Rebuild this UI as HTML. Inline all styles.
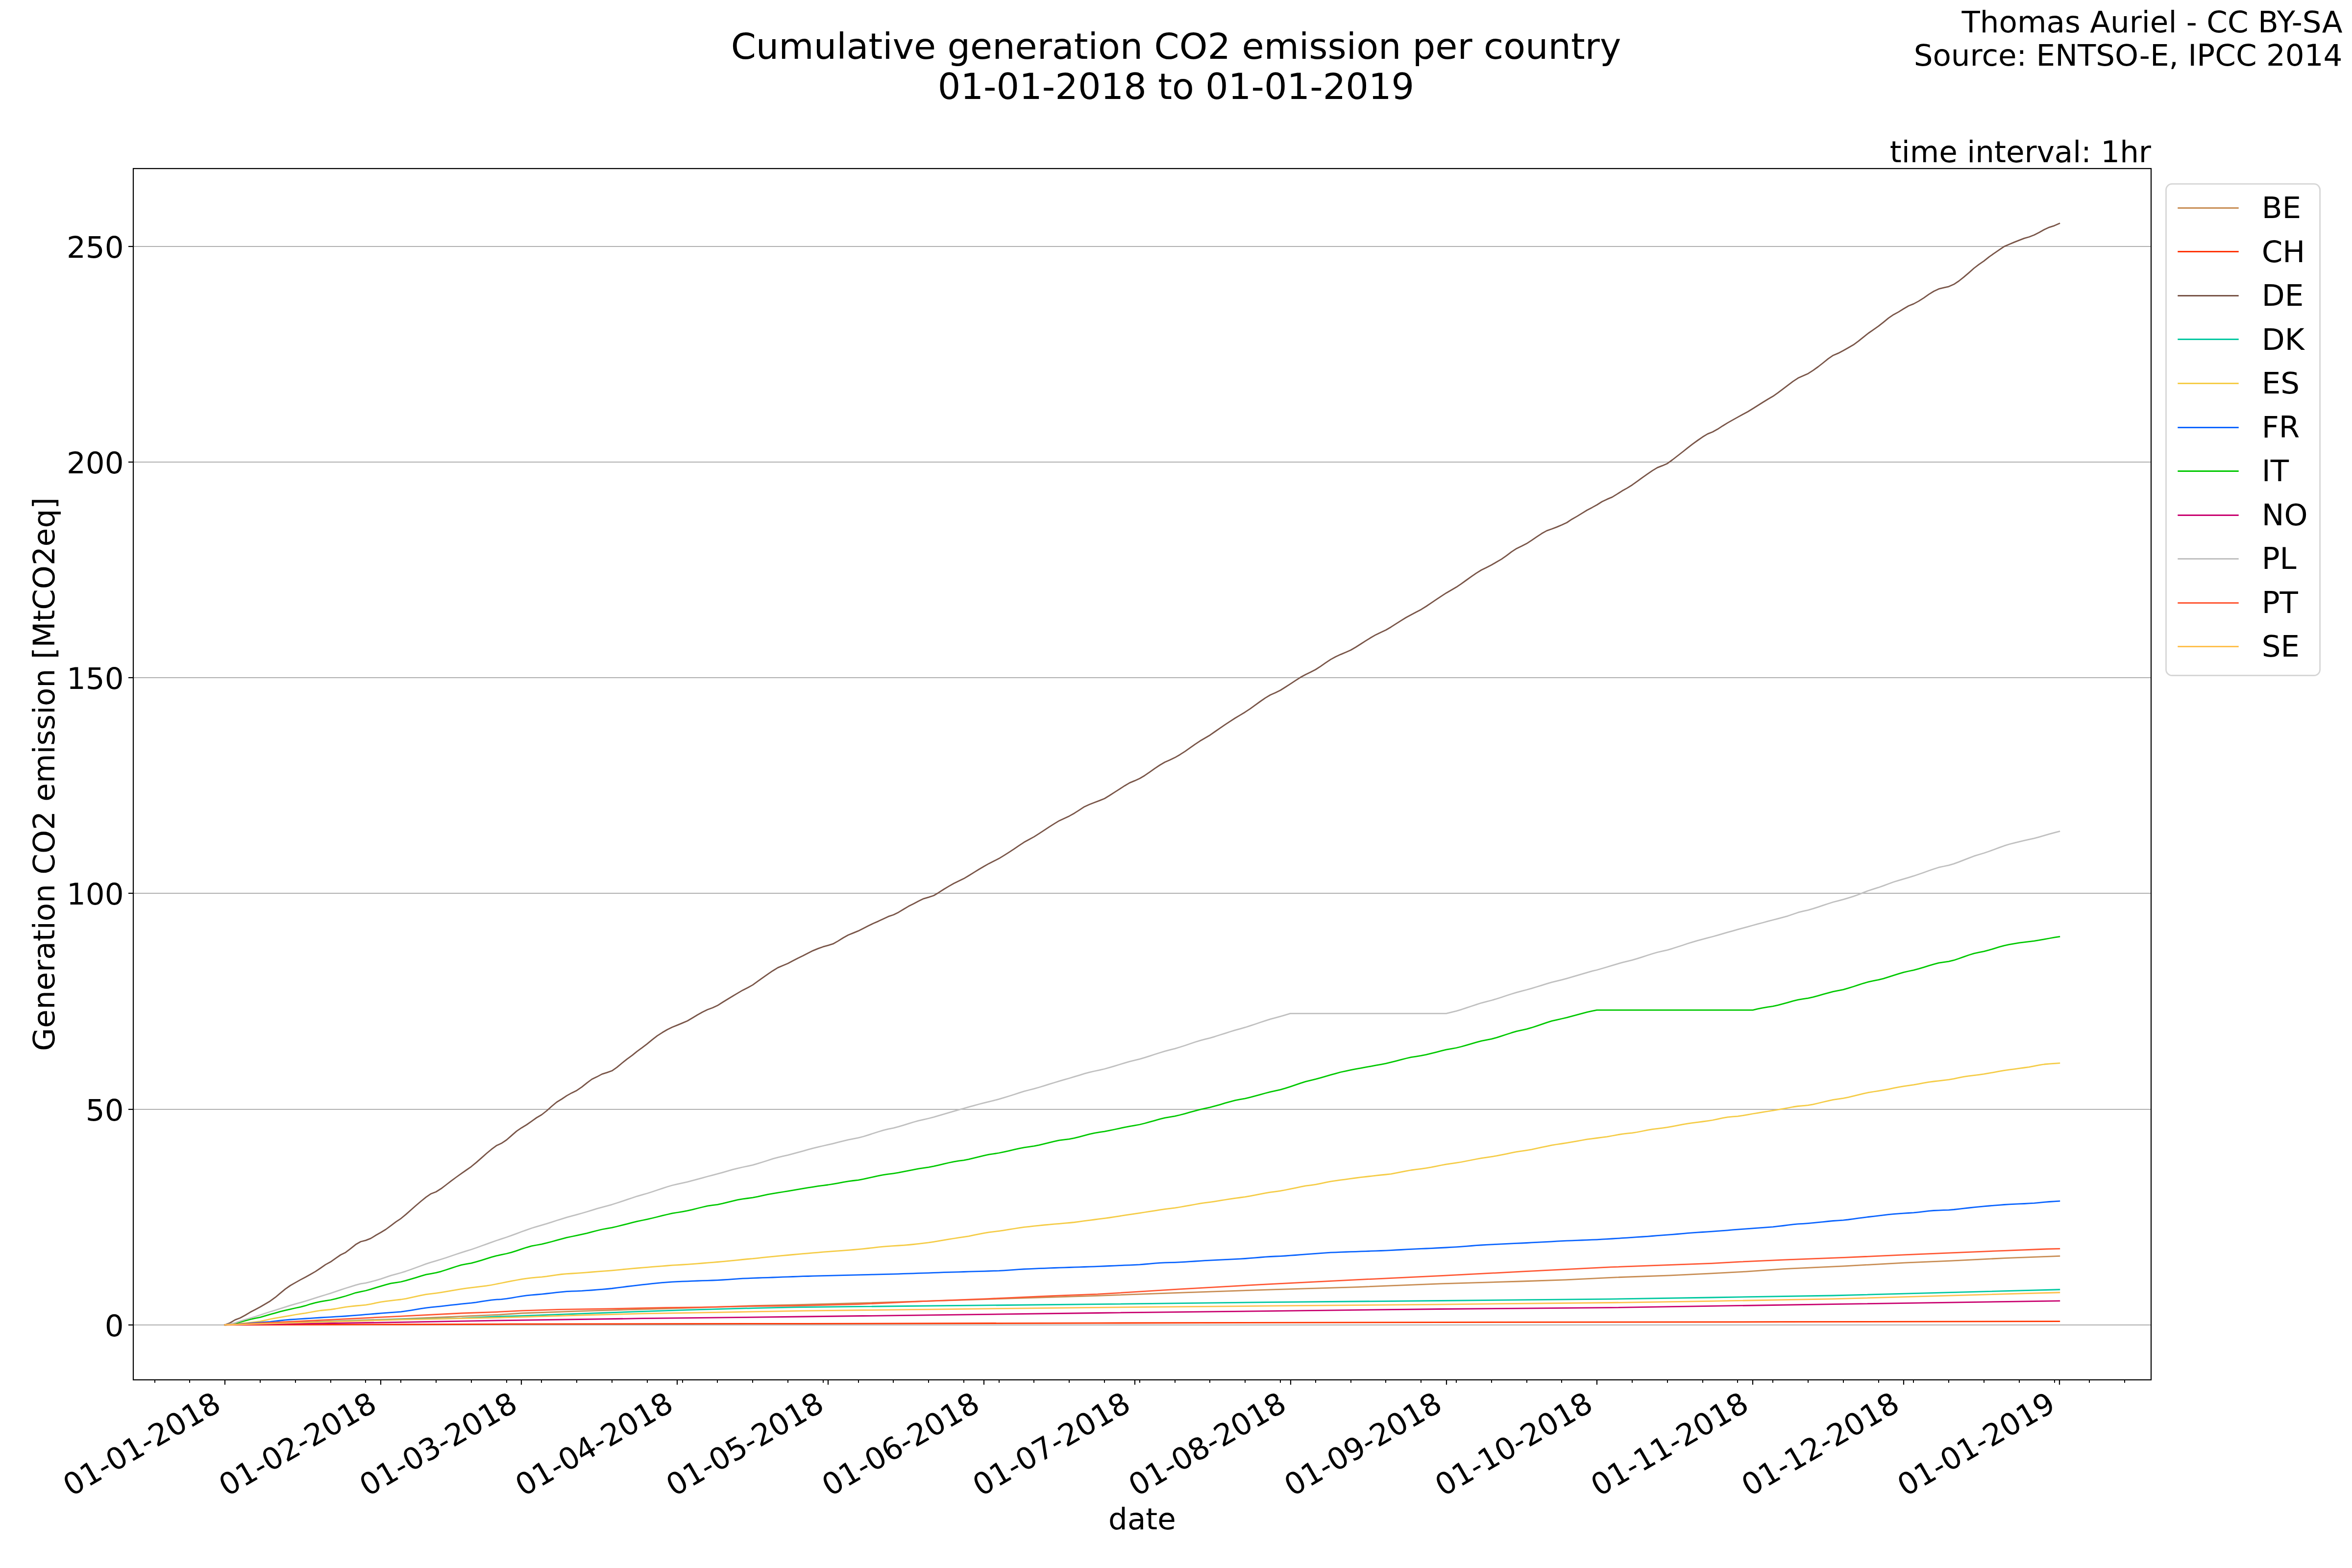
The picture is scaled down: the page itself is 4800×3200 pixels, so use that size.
<!DOCTYPE html>
<html lang="en"><head><meta charset="utf-8"><title>Cumulative generation CO2 emission per country</title>
<style>html,body{margin:0;padding:0;background:#fff}body{width:4800px;height:3200px;overflow:hidden}svg{display:block}text{font-family:"DejaVu Sans", "Liberation Sans", sans-serif;fill:#000}</style>
</head><body>
<svg width="4800" height="3200" viewBox="0 0 4800 3200">
<rect width="4800" height="3200" fill="#fff"/>
<g stroke="#b0b0b0" stroke-width="2.2" fill="none">
<line x1="272.0" y1="2704.0" x2="4390.0" y2="2704.0"/>
<line x1="272.0" y1="2264.0" x2="4390.0" y2="2264.0"/>
<line x1="272.0" y1="1823.0" x2="4390.0" y2="1823.0"/>
<line x1="272.0" y1="1383.0" x2="4390.0" y2="1383.0"/>
<line x1="272.0" y1="943.0" x2="4390.0" y2="943.0"/>
<line x1="272.0" y1="503.0" x2="4390.0" y2="503.0"/>
</g>
<clipPath id="ax"><rect x="272.0" y="344.0" width="4118.0" height="2472.0"/></clipPath>
<g clip-path="url(#ax)" fill="none" stroke-width="2.78" stroke-linejoin="round" stroke-linecap="square">
<path stroke="#c88d54" d="M459.2 2703.9 L820.0 2691.6 L1020.0 2683.0 L1064.9 2680.0 L1187.3 2675.7 L1297.5 2672.3 L1401.6 2669.3 L1540.0 2664.7 L1620.0 2663.0 L1883.6 2655.7 L2240.0 2644.3 L2403.7 2638.3 L2587.3 2632.1 L2771.0 2626.6 L2940.0 2619.9 L3103.7 2615.0 L3195.5 2611.9 L3287.3 2607.3 L3409.8 2602.8 L3492.4 2598.8 L3562.9 2595.1 L3640.0 2589.6 L3763.9 2583.9 L3886.3 2577.1 L3981.2 2573.2 L4091.4 2567.6 L4202.8 2563.4"/>
<path stroke="#ff3300" d="M459.2 2703.9 L820.0 2703.0 L1040.0 2702.2 L1640.0 2701.3 L2240.0 2700.1 L2940.0 2698.6 L3640.0 2697.7 L4202.8 2696.6"/>
<path stroke="#795548" d="M459.2 2703.9 L469.5 2699.7 L479.7 2693.6 L490.0 2689.7 L500.2 2684.2 L510.5 2678.1 L520.7 2672.7 L531.0 2667.2 L541.3 2661.2 L551.5 2655.2 L561.8 2647.7 L572.0 2639.1 L582.3 2630.6 L592.5 2623.5 L602.8 2617.6 L613.0 2611.9 L623.3 2606.4 L633.6 2600.7 L643.8 2594.9 L654.1 2588.0 L664.3 2580.9 L674.6 2575.3 L684.8 2568.1 L695.1 2561.0 L705.4 2555.9 L715.6 2548.2 L725.9 2539.8 L736.1 2534.0 L746.4 2531.4 L756.6 2527.4 L766.9 2521.0 L777.1 2515.3 L787.4 2509.0 L797.7 2501.4 L807.9 2493.6 L818.2 2486.8 L828.4 2478.4 L838.7 2469.3 L848.9 2460.2 L859.2 2451.5 L869.5 2443.2 L879.7 2436.2 L890.0 2432.2 L900.2 2425.8 L910.5 2418.0 L920.7 2410.2 L931.0 2402.5 L941.3 2395.1 L951.5 2388.0 L961.8 2380.8 L972.0 2372.4 L982.3 2363.4 L992.5 2354.3 L1002.8 2345.7 L1013.0 2338.1 L1023.3 2333.3 L1033.6 2326.5 L1043.8 2317.6 L1054.1 2308.6 L1064.3 2301.7 L1074.6 2295.5 L1084.8 2288.3 L1095.1 2281.0 L1105.4 2275.0 L1115.6 2267.0 L1125.9 2257.8 L1136.1 2249.3 L1146.4 2243.0 L1156.6 2236.1 L1166.9 2230.4 L1177.1 2225.4 L1187.4 2218.3 L1197.7 2210.1 L1207.9 2202.5 L1218.2 2197.6 L1228.4 2192.1 L1238.7 2188.9 L1248.9 2185.3 L1259.2 2178.1 L1269.5 2169.5 L1279.7 2161.3 L1290.0 2153.9 L1300.2 2145.6 L1310.5 2138.2 L1320.7 2130.4 L1331.0 2121.9 L1341.3 2113.9 L1351.5 2107.3 L1361.8 2101.2 L1372.0 2096.3 L1382.3 2092.1 L1392.5 2087.9 L1402.8 2083.5 L1413.0 2077.5 L1423.3 2071.2 L1433.6 2065.5 L1443.8 2060.5 L1454.1 2056.7 L1464.3 2052.1 L1474.6 2045.5 L1484.8 2039.2 L1495.1 2033.0 L1505.4 2026.9 L1515.6 2020.9 L1525.9 2015.7 L1536.1 2010.1 L1546.4 2002.7 L1556.6 1995.3 L1566.9 1988.1 L1577.1 1981.2 L1587.4 1974.9 L1597.7 1970.5 L1607.9 1966.2 L1618.2 1960.8 L1628.4 1955.4 L1638.7 1950.6 L1648.9 1945.3 L1659.2 1940.1 L1669.5 1935.9 L1679.7 1932.2 L1690.0 1929.3 L1700.2 1926.2 L1710.5 1920.4 L1720.7 1914.0 L1731.0 1908.3 L1741.2 1904.1 L1751.5 1899.9 L1761.8 1894.8 L1772.0 1889.5 L1782.3 1884.5 L1792.5 1880.1 L1802.8 1875.2 L1813.0 1870.4 L1823.3 1867.0 L1833.6 1861.9 L1843.8 1855.7 L1854.1 1849.6 L1864.3 1844.4 L1874.6 1838.9 L1884.8 1834.1 L1895.1 1831.1 L1905.4 1827.8 L1915.6 1821.7 L1925.9 1815.0 L1936.1 1808.9 L1946.4 1803.0 L1956.6 1798.0 L1966.9 1793.1 L1977.1 1787.0 L1987.4 1780.6 L1997.7 1774.2 L2007.9 1768.2 L2018.2 1762.4 L2028.4 1757.3 L2038.7 1752.1 L2048.9 1745.9 L2059.2 1739.4 L2069.5 1732.7 L2079.7 1725.6 L2090.0 1718.8 L2100.2 1713.2 L2110.5 1707.6 L2120.7 1701.1 L2131.0 1694.3 L2141.2 1687.6 L2151.5 1681.1 L2161.8 1674.9 L2172.0 1670.3 L2182.3 1665.4 L2192.5 1659.7 L2202.8 1653.1 L2213.0 1646.4 L2223.3 1641.7 L2233.6 1637.7 L2243.8 1633.9 L2254.1 1629.7 L2264.3 1623.5 L2274.6 1616.9 L2284.8 1610.3 L2295.1 1603.7 L2305.4 1597.6 L2315.6 1593.4 L2325.9 1588.8 L2336.1 1582.7 L2346.4 1575.6 L2356.6 1568.3 L2366.9 1561.5 L2377.1 1555.5 L2387.4 1550.9 L2397.7 1546.1 L2407.9 1540.2 L2418.2 1533.6 L2428.4 1526.4 L2438.7 1519.1 L2448.9 1512.3 L2459.2 1506.3 L2469.5 1500.2 L2479.7 1493.0 L2490.0 1485.8 L2500.2 1478.9 L2510.5 1472.1 L2520.7 1465.5 L2531.0 1459.4 L2541.2 1453.2 L2551.5 1446.3 L2561.8 1438.9 L2572.0 1431.5 L2582.3 1424.4 L2592.5 1418.3 L2602.8 1413.8 L2613.0 1408.7 L2623.3 1402.2 L2633.6 1395.6 L2643.8 1388.9 L2654.1 1382.3 L2664.3 1376.7 L2674.6 1371.8 L2684.8 1366.5 L2695.1 1359.8 L2705.4 1352.7 L2715.6 1345.9 L2725.9 1340.2 L2736.1 1335.6 L2746.4 1331.3 L2756.6 1326.7 L2766.9 1320.7 L2777.1 1314.3 L2787.4 1307.7 L2797.7 1301.3 L2807.9 1295.4 L2818.2 1290.6 L2828.4 1285.8 L2838.7 1279.7 L2848.9 1273.2 L2859.2 1266.6 L2869.5 1260.2 L2879.7 1254.7 L2890.0 1249.3 L2900.2 1243.9 L2910.5 1237.5 L2920.7 1230.7 L2931.0 1223.7 L2941.2 1216.8 L2951.5 1210.2 L2961.8 1204.3 L2972.0 1198.3 L2982.3 1191.3 L2992.5 1184.0 L3002.8 1176.7 L3013.0 1169.6 L3023.3 1163.2 L3033.6 1158.2 L3043.8 1153.0 L3054.1 1147.0 L3064.3 1141.1 L3074.6 1133.8 L3084.8 1126.1 L3095.1 1119.4 L3105.4 1114.5 L3115.6 1109.3 L3125.9 1102.6 L3136.1 1095.6 L3146.4 1088.8 L3156.6 1083.1 L3166.9 1079.5 L3177.1 1075.6 L3187.4 1071.2 L3197.7 1066.5 L3207.9 1059.7 L3218.2 1053.9 L3228.4 1047.6 L3238.7 1041.2 L3248.9 1035.9 L3259.2 1030.2 L3269.5 1023.8 L3279.7 1018.9 L3290.0 1014.6 L3300.2 1008.4 L3310.5 1001.8 L3320.7 996.1 L3331.0 989.7 L3341.2 982.4 L3351.5 974.8 L3361.8 967.6 L3372.0 960.6 L3382.3 954.4 L3392.5 950.4 L3402.8 945.9 L3413.0 938.5 L3423.3 930.5 L3433.6 922.5 L3443.8 914.3 L3454.1 906.4 L3464.3 899.0 L3474.6 891.8 L3484.8 885.6 L3495.1 881.5 L3505.4 875.8 L3515.6 869.2 L3525.9 862.9 L3536.1 857.1 L3546.4 851.4 L3556.6 845.8 L3566.9 840.2 L3577.1 834.0 L3587.4 827.5 L3597.7 821.0 L3607.9 814.7 L3618.2 808.8 L3628.4 801.6 L3638.7 793.9 L3648.9 786.1 L3659.2 778.4 L3669.5 771.6 L3679.7 767.0 L3690.0 762.4 L3700.2 755.8 L3710.5 748.5 L3720.7 740.5 L3731.0 732.1 L3741.2 725.2 L3751.5 720.9 L3761.8 715.4 L3772.0 709.7 L3782.3 703.8 L3792.5 696.4 L3802.8 688.2 L3813.0 680.0 L3823.3 672.8 L3833.6 665.7 L3843.8 657.6 L3854.1 649.2 L3864.3 642.2 L3874.6 636.6 L3884.8 630.3 L3895.1 624.2 L3905.4 620.1 L3915.6 614.6 L3925.9 608.1 L3936.1 600.9 L3946.4 594.5 L3956.6 589.7 L3966.9 587.2 L3977.1 584.8 L3987.4 580.3 L3997.7 573.5 L4007.9 565.4 L4018.2 556.6 L4028.4 547.5 L4038.7 539.6 L4048.9 532.6 L4059.2 524.3 L4069.5 517.2 L4079.7 510.2 L4090.0 503.1 L4100.2 498.7 L4110.5 494.4 L4120.7 490.4 L4131.0 486.4 L4141.2 483.5 L4151.5 479.5 L4161.8 474.3 L4172.0 468.5 L4182.3 463.8 L4192.5 460.6 L4202.8 456.1"/>
<path stroke="#00c8a0" d="M459.2 2703.9 L820.0 2692.5 L942.0 2690.1 L1020.0 2686.6 L1065.0 2685.3 L1187.0 2680.9 L1297.5 2676.9 L1401.6 2673.3 L1540.0 2669.6 L1620.0 2667.8 L2240.0 2661.7 L2587.0 2657.6 L2940.0 2654.5 L3287.0 2651.1 L3492.0 2648.0 L3740.0 2644.0 L4202.8 2631.8"/>
<path stroke="#f5cc47" d="M459.2 2703.9 L469.5 2703.0 L479.7 2702.1 L490.0 2701.1 L500.2 2700.2 L510.5 2699.1 L520.7 2698.0 L531.0 2696.7 L541.3 2694.3 L551.5 2692.0 L561.8 2690.2 L572.0 2688.4 L582.3 2686.6 L592.5 2684.8 L602.8 2683.0 L613.0 2681.4 L623.3 2679.9 L633.6 2678.0 L643.8 2676.2 L654.1 2674.5 L664.3 2673.5 L674.6 2672.5 L684.8 2671.0 L695.1 2669.1 L705.4 2667.4 L715.6 2666.1 L725.9 2665.0 L736.1 2664.1 L746.4 2663.2 L756.6 2661.4 L766.9 2659.2 L777.1 2657.2 L787.4 2655.7 L797.7 2654.4 L807.9 2653.2 L818.2 2652.0 L828.4 2650.3 L838.7 2648.1 L848.9 2645.8 L859.2 2643.6 L869.5 2641.6 L879.7 2640.4 L890.0 2639.1 L900.2 2637.6 L910.5 2635.9 L920.7 2634.1 L931.0 2632.3 L941.3 2630.6 L951.5 2629.2 L961.8 2627.9 L972.0 2626.7 L982.3 2625.4 L992.5 2624.1 L1002.8 2622.5 L1013.0 2620.5 L1023.3 2618.5 L1033.6 2616.4 L1043.8 2614.4 L1054.1 2612.5 L1064.3 2610.6 L1074.6 2609.2 L1084.8 2607.9 L1095.1 2606.9 L1105.4 2606.1 L1115.6 2604.9 L1125.9 2603.3 L1136.1 2601.8 L1146.4 2600.5 L1156.6 2599.7 L1166.9 2599.0 L1177.1 2598.3 L1187.4 2597.6 L1197.7 2596.8 L1207.9 2596.0 L1218.2 2595.2 L1228.4 2594.4 L1238.7 2593.6 L1248.9 2592.8 L1259.2 2591.8 L1269.5 2590.8 L1279.7 2589.9 L1290.0 2588.9 L1300.2 2588.0 L1310.5 2587.1 L1320.7 2586.3 L1331.0 2585.4 L1341.3 2584.6 L1351.5 2583.8 L1361.8 2583.0 L1372.0 2582.2 L1382.3 2581.6 L1392.5 2581.0 L1402.8 2580.4 L1413.0 2579.6 L1423.3 2578.8 L1433.6 2578.0 L1443.8 2577.2 L1454.1 2576.3 L1464.3 2575.5 L1474.6 2574.6 L1484.8 2573.7 L1495.1 2572.7 L1505.4 2571.6 L1515.6 2570.5 L1525.9 2569.5 L1536.1 2568.7 L1546.4 2567.6 L1556.6 2566.4 L1566.9 2565.3 L1577.1 2564.3 L1587.4 2563.4 L1597.7 2562.4 L1607.9 2561.5 L1618.2 2560.5 L1628.4 2559.6 L1638.7 2558.7 L1648.9 2557.8 L1659.2 2556.9 L1669.5 2556.1 L1679.7 2555.2 L1690.0 2554.4 L1700.2 2553.7 L1710.5 2552.9 L1720.7 2552.1 L1731.0 2551.3 L1741.2 2550.5 L1751.5 2549.6 L1761.8 2548.6 L1772.0 2547.5 L1782.3 2546.3 L1792.5 2545.2 L1802.8 2544.2 L1813.0 2543.4 L1823.3 2542.7 L1833.6 2542.0 L1843.8 2541.3 L1854.1 2540.5 L1864.3 2539.5 L1874.6 2538.3 L1884.8 2537.1 L1895.1 2535.9 L1905.4 2534.3 L1915.6 2532.6 L1925.9 2530.9 L1936.1 2529.2 L1946.4 2527.5 L1956.6 2525.9 L1966.9 2524.4 L1977.1 2522.8 L1987.4 2520.7 L1997.7 2518.7 L2007.9 2516.7 L2018.2 2514.9 L2028.4 2513.6 L2038.7 2512.3 L2048.9 2510.8 L2059.2 2509.2 L2069.5 2507.5 L2079.7 2505.9 L2090.0 2504.4 L2100.2 2503.3 L2110.5 2502.2 L2120.7 2501.1 L2131.0 2500.0 L2141.2 2499.1 L2151.5 2498.2 L2161.8 2497.3 L2172.0 2496.4 L2182.3 2495.5 L2192.5 2494.5 L2202.8 2493.1 L2213.0 2491.7 L2223.3 2490.3 L2233.6 2489.0 L2243.8 2487.7 L2254.1 2486.4 L2264.3 2485.0 L2274.6 2483.4 L2284.8 2481.8 L2295.1 2480.1 L2305.4 2478.6 L2315.6 2477.1 L2325.9 2475.6 L2336.1 2474.0 L2346.4 2472.4 L2356.6 2470.8 L2366.9 2469.2 L2377.1 2467.7 L2387.4 2466.4 L2397.7 2465.1 L2407.9 2463.5 L2418.2 2461.7 L2428.4 2459.8 L2438.7 2458.0 L2448.9 2456.2 L2459.2 2454.7 L2469.5 2453.3 L2479.7 2451.8 L2490.0 2450.1 L2500.2 2448.5 L2510.5 2446.9 L2520.7 2445.3 L2531.0 2444.0 L2541.2 2442.6 L2551.5 2440.8 L2561.8 2438.9 L2572.0 2436.9 L2582.3 2434.9 L2592.5 2433.2 L2602.8 2431.8 L2613.0 2430.4 L2623.3 2428.5 L2633.6 2426.4 L2643.8 2424.3 L2654.1 2422.2 L2664.3 2420.2 L2674.6 2418.8 L2684.8 2417.3 L2695.1 2415.3 L2705.4 2413.2 L2715.6 2411.2 L2725.9 2409.6 L2736.1 2408.2 L2746.4 2406.8 L2756.6 2405.4 L2766.9 2404.0 L2777.1 2402.7 L2787.4 2401.5 L2797.7 2400.3 L2807.9 2399.1 L2818.2 2398.0 L2828.4 2397.0 L2838.7 2395.8 L2848.9 2393.9 L2859.2 2391.8 L2869.5 2389.8 L2879.7 2388.0 L2890.0 2386.7 L2900.2 2385.4 L2910.5 2383.9 L2920.7 2382.2 L2931.0 2380.1 L2941.2 2378.0 L2951.5 2376.1 L2961.8 2374.6 L2972.0 2373.1 L2982.3 2371.5 L2992.5 2369.5 L3002.8 2367.5 L3013.0 2365.5 L3023.3 2363.6 L3033.6 2362.1 L3043.8 2360.6 L3054.1 2358.9 L3064.3 2356.9 L3074.6 2354.8 L3084.8 2352.7 L3095.1 2350.7 L3105.4 2349.2 L3115.6 2347.6 L3125.9 2345.8 L3136.1 2343.6 L3146.4 2341.4 L3156.6 2339.3 L3166.9 2337.2 L3177.1 2335.5 L3187.4 2334.0 L3197.7 2332.4 L3207.9 2330.7 L3218.2 2328.8 L3228.4 2327.0 L3238.7 2325.2 L3248.9 2323.8 L3259.2 2322.5 L3269.5 2321.2 L3279.7 2319.8 L3290.0 2318.0 L3300.2 2316.1 L3310.5 2314.3 L3320.7 2313.2 L3331.0 2312.2 L3341.2 2310.5 L3351.5 2308.5 L3361.8 2306.4 L3372.0 2304.6 L3382.3 2303.3 L3392.5 2302.1 L3402.8 2300.7 L3413.0 2298.9 L3423.3 2296.9 L3433.6 2294.9 L3443.8 2293.1 L3454.1 2291.7 L3464.3 2290.3 L3474.6 2289.0 L3484.8 2287.6 L3495.1 2286.0 L3505.4 2283.9 L3515.6 2281.7 L3525.9 2279.8 L3536.1 2278.9 L3546.4 2278.1 L3556.6 2276.7 L3566.9 2274.9 L3577.1 2273.0 L3587.4 2271.3 L3597.7 2269.7 L3607.9 2268.0 L3618.2 2266.4 L3628.4 2264.7 L3638.7 2262.9 L3648.9 2261.0 L3659.2 2259.0 L3669.5 2257.5 L3679.7 2256.7 L3690.0 2255.7 L3700.2 2253.8 L3710.5 2251.5 L3720.7 2249.0 L3731.0 2246.6 L3741.2 2244.3 L3751.5 2242.8 L3761.8 2241.3 L3772.0 2239.3 L3782.3 2236.9 L3792.5 2234.4 L3802.8 2231.9 L3813.0 2229.7 L3823.3 2228.0 L3833.6 2226.4 L3843.8 2224.7 L3854.1 2222.8 L3864.3 2220.7 L3874.6 2218.7 L3884.8 2216.8 L3895.1 2215.3 L3905.4 2213.9 L3915.6 2212.1 L3925.9 2210.2 L3936.1 2208.4 L3946.4 2207.0 L3956.6 2205.8 L3966.9 2204.6 L3977.1 2203.3 L3987.4 2201.6 L3997.7 2199.4 L4007.9 2197.4 L4018.2 2195.9 L4028.4 2194.6 L4038.7 2193.3 L4048.9 2191.9 L4059.2 2190.2 L4069.5 2188.3 L4079.7 2186.4 L4090.0 2184.6 L4100.2 2183.2 L4110.5 2181.8 L4120.7 2180.4 L4131.0 2179.0 L4141.2 2177.6 L4151.5 2175.6 L4161.8 2173.6 L4172.0 2172.0 L4182.3 2171.1 L4192.5 2170.3 L4202.8 2169.7"/>
<path stroke="#0a64ff" d="M459.2 2703.9 L469.5 2703.3 L479.7 2702.6 L490.0 2701.9 L500.2 2701.3 L510.5 2700.5 L520.7 2699.7 L531.0 2699.0 L541.3 2698.1 L551.5 2697.3 L561.8 2696.2 L572.0 2695.0 L582.3 2693.9 L592.5 2693.0 L602.8 2692.3 L613.0 2691.6 L623.3 2691.0 L633.6 2690.3 L643.8 2689.7 L654.1 2689.0 L664.3 2688.4 L674.6 2687.8 L684.8 2687.2 L695.1 2686.6 L705.4 2686.0 L715.6 2685.2 L725.9 2684.4 L736.1 2683.6 L746.4 2682.7 L756.6 2681.9 L766.9 2681.0 L777.1 2680.2 L787.4 2679.4 L797.7 2678.6 L807.9 2677.9 L818.2 2677.1 L828.4 2675.7 L838.7 2674.1 L848.9 2672.4 L859.2 2670.7 L869.5 2669.1 L879.7 2667.9 L890.0 2666.9 L900.2 2665.8 L910.5 2664.6 L920.7 2663.4 L931.0 2662.3 L941.3 2661.1 L951.5 2660.1 L961.8 2659.1 L972.0 2657.8 L982.3 2656.2 L992.5 2654.6 L1002.8 2653.2 L1013.0 2652.2 L1023.3 2651.6 L1033.6 2650.4 L1043.8 2648.8 L1054.1 2647.0 L1064.3 2645.3 L1074.6 2643.8 L1084.8 2642.8 L1095.1 2642.0 L1105.4 2641.1 L1115.6 2640.0 L1125.9 2638.8 L1136.1 2637.7 L1146.4 2636.6 L1156.6 2635.6 L1166.9 2635.2 L1177.1 2634.8 L1187.4 2634.4 L1197.7 2633.7 L1207.9 2633.0 L1218.2 2632.2 L1228.4 2631.4 L1238.7 2630.5 L1248.9 2629.5 L1259.2 2628.2 L1269.5 2626.9 L1279.7 2625.5 L1290.0 2624.3 L1300.2 2623.1 L1310.5 2621.9 L1320.7 2620.8 L1331.0 2619.7 L1341.3 2618.6 L1351.5 2617.6 L1361.8 2616.8 L1372.0 2616.2 L1382.3 2615.7 L1392.5 2615.2 L1402.8 2614.8 L1413.0 2614.4 L1423.3 2614.0 L1433.6 2613.7 L1443.8 2613.3 L1454.1 2613.0 L1464.3 2612.6 L1474.6 2612.0 L1484.8 2611.3 L1495.1 2610.6 L1505.4 2609.8 L1515.6 2609.2 L1525.9 2608.8 L1536.1 2608.4 L1546.4 2608.0 L1556.6 2607.7 L1566.9 2607.3 L1577.1 2607.0 L1587.4 2606.6 L1597.7 2606.2 L1607.9 2605.8 L1618.2 2605.5 L1628.4 2605.1 L1638.7 2604.7 L1648.9 2604.5 L1659.2 2604.2 L1669.5 2603.9 L1679.7 2603.7 L1690.0 2603.4 L1700.2 2603.2 L1710.5 2602.9 L1720.7 2602.7 L1731.0 2602.4 L1741.2 2602.2 L1751.5 2601.9 L1761.8 2601.7 L1772.0 2601.4 L1782.3 2601.1 L1792.5 2600.9 L1802.8 2600.6 L1813.0 2600.3 L1823.3 2600.1 L1833.6 2599.8 L1843.8 2599.4 L1854.1 2599.1 L1864.3 2598.8 L1874.6 2598.4 L1884.8 2598.1 L1895.1 2597.8 L1905.4 2597.4 L1915.6 2597.1 L1925.9 2596.7 L1936.1 2596.4 L1946.4 2596.1 L1956.6 2595.8 L1966.9 2595.5 L1977.1 2595.2 L1987.4 2594.9 L1997.7 2594.6 L2007.9 2594.3 L2018.2 2594.0 L2028.4 2593.7 L2038.7 2593.4 L2048.9 2592.8 L2059.2 2592.1 L2069.5 2591.4 L2079.7 2590.7 L2090.0 2590.0 L2100.2 2589.6 L2110.5 2589.1 L2120.7 2588.7 L2131.0 2588.3 L2141.2 2587.9 L2151.5 2587.5 L2161.8 2587.1 L2172.0 2586.8 L2182.3 2586.5 L2192.5 2586.2 L2202.8 2585.9 L2213.0 2585.5 L2223.3 2585.2 L2233.6 2584.8 L2243.8 2584.4 L2254.1 2584.0 L2264.3 2583.5 L2274.6 2583.1 L2284.8 2582.7 L2295.1 2582.2 L2305.4 2581.8 L2315.6 2581.3 L2325.9 2580.8 L2336.1 2580.0 L2346.4 2579.1 L2356.6 2578.2 L2366.9 2577.4 L2377.1 2576.9 L2387.4 2576.6 L2397.7 2576.3 L2407.9 2575.9 L2418.2 2575.3 L2428.4 2574.7 L2438.7 2574.0 L2448.9 2573.4 L2459.2 2572.7 L2469.5 2572.2 L2479.7 2571.6 L2490.0 2571.1 L2500.2 2570.6 L2510.5 2570.1 L2520.7 2569.6 L2531.0 2569.1 L2541.2 2568.5 L2551.5 2567.7 L2561.8 2566.9 L2572.0 2566.0 L2582.3 2565.2 L2592.5 2564.5 L2602.8 2564.0 L2613.0 2563.6 L2623.3 2563.0 L2633.6 2562.2 L2643.8 2561.5 L2654.1 2560.7 L2664.3 2559.9 L2674.6 2559.1 L2684.8 2558.3 L2695.1 2557.6 L2705.4 2556.9 L2715.6 2556.2 L2725.9 2555.8 L2736.1 2555.4 L2746.4 2555.0 L2756.6 2554.6 L2766.9 2554.3 L2777.1 2553.9 L2787.4 2553.6 L2797.7 2553.2 L2807.9 2552.8 L2818.2 2552.5 L2828.4 2552.1 L2838.7 2551.6 L2848.9 2551.0 L2859.2 2550.5 L2869.5 2549.9 L2879.7 2549.3 L2890.0 2548.8 L2900.2 2548.3 L2910.5 2548.0 L2920.7 2547.6 L2931.0 2547.0 L2941.2 2546.5 L2951.5 2546.0 L2961.8 2545.4 L2972.0 2544.8 L2982.3 2544.1 L2992.5 2543.3 L3002.8 2542.5 L3013.0 2541.7 L3023.3 2541.0 L3033.6 2540.4 L3043.8 2539.9 L3054.1 2539.4 L3064.3 2538.9 L3074.6 2538.4 L3084.8 2537.9 L3095.1 2537.4 L3105.4 2537.0 L3115.6 2536.5 L3125.9 2535.9 L3136.1 2535.4 L3146.4 2534.9 L3156.6 2534.3 L3166.9 2533.8 L3177.1 2533.2 L3187.4 2532.7 L3197.7 2532.2 L3207.9 2531.8 L3218.2 2531.4 L3228.4 2531.0 L3238.7 2530.6 L3248.9 2530.2 L3259.2 2529.8 L3269.5 2529.2 L3279.7 2528.6 L3290.0 2528.0 L3300.2 2527.4 L3310.5 2526.7 L3320.7 2526.1 L3331.0 2525.4 L3341.2 2524.7 L3351.5 2524.0 L3361.8 2523.3 L3372.0 2522.5 L3382.3 2521.7 L3392.5 2520.9 L3402.8 2520.2 L3413.0 2519.3 L3423.3 2518.5 L3433.6 2517.6 L3443.8 2516.7 L3454.1 2515.9 L3464.3 2515.1 L3474.6 2514.5 L3484.8 2513.9 L3495.1 2513.2 L3505.4 2512.4 L3515.6 2511.6 L3525.9 2510.8 L3536.1 2509.9 L3546.4 2509.1 L3556.6 2508.4 L3566.9 2507.6 L3577.1 2506.9 L3587.4 2506.2 L3597.7 2505.4 L3607.9 2504.7 L3618.2 2503.9 L3628.4 2502.7 L3638.7 2501.5 L3648.9 2500.2 L3659.2 2498.9 L3669.5 2497.9 L3679.7 2497.3 L3690.0 2496.6 L3700.2 2495.7 L3710.5 2494.6 L3720.7 2493.6 L3731.0 2492.5 L3741.2 2491.5 L3751.5 2490.8 L3761.8 2490.1 L3772.0 2489.0 L3782.3 2487.6 L3792.5 2486.2 L3802.8 2484.8 L3813.0 2483.5 L3823.3 2482.3 L3833.6 2481.1 L3843.8 2479.9 L3854.1 2478.7 L3864.3 2477.7 L3874.6 2476.9 L3884.8 2476.2 L3895.1 2475.5 L3905.4 2474.8 L3915.6 2473.8 L3925.9 2472.6 L3936.1 2471.4 L3946.4 2470.5 L3956.6 2470.1 L3966.9 2469.7 L3977.1 2469.3 L3987.4 2468.5 L3997.7 2467.4 L4007.9 2466.2 L4018.2 2465.0 L4028.4 2463.8 L4038.7 2462.8 L4048.9 2461.9 L4059.2 2461.0 L4069.5 2460.1 L4079.7 2459.3 L4090.0 2458.5 L4100.2 2457.9 L4110.5 2457.4 L4120.7 2456.9 L4131.0 2456.5 L4141.2 2455.9 L4151.5 2455.4 L4161.8 2454.4 L4172.0 2453.4 L4182.3 2452.5 L4192.5 2451.9 L4202.8 2451.3"/>
<path stroke="#00c800" d="M459.2 2703.9 L469.5 2702.6 L479.7 2700.8 L490.0 2698.2 L500.2 2695.3 L510.5 2692.7 L520.7 2690.4 L531.0 2688.4 L541.3 2685.4 L551.5 2682.4 L561.8 2679.6 L572.0 2676.7 L582.3 2674.2 L592.5 2671.8 L602.8 2669.5 L613.0 2667.4 L623.3 2664.7 L633.6 2661.3 L643.8 2658.7 L654.1 2656.4 L664.3 2654.7 L674.6 2653.0 L684.8 2650.6 L695.1 2647.9 L705.4 2645.0 L715.6 2641.7 L725.9 2638.3 L736.1 2636.1 L746.4 2634.0 L756.6 2631.1 L766.9 2627.9 L777.1 2624.8 L787.4 2621.8 L797.7 2619.2 L807.9 2617.6 L818.2 2616.0 L828.4 2613.4 L838.7 2610.4 L848.9 2607.3 L859.2 2604.1 L869.5 2601.2 L879.7 2599.3 L890.0 2597.4 L900.2 2594.8 L910.5 2591.5 L920.7 2588.1 L931.0 2584.8 L941.3 2581.7 L951.5 2579.7 L961.8 2577.8 L972.0 2575.2 L982.3 2572.1 L992.5 2568.9 L1002.8 2565.7 L1013.0 2562.9 L1023.3 2560.7 L1033.6 2558.5 L1043.8 2555.9 L1054.1 2552.6 L1064.3 2549.1 L1074.6 2545.8 L1084.8 2542.9 L1095.1 2541.0 L1105.4 2539.1 L1115.6 2536.7 L1125.9 2534.0 L1136.1 2531.2 L1146.4 2528.4 L1156.6 2525.7 L1166.9 2523.5 L1177.1 2521.3 L1187.4 2519.1 L1197.7 2516.8 L1207.9 2514.2 L1218.2 2511.5 L1228.4 2509.0 L1238.7 2507.2 L1248.9 2505.4 L1259.2 2503.0 L1269.5 2500.4 L1279.7 2497.8 L1290.0 2495.1 L1300.2 2492.7 L1310.5 2490.5 L1320.7 2488.4 L1331.0 2486.0 L1341.3 2483.5 L1351.5 2480.9 L1361.8 2478.5 L1372.0 2476.2 L1382.3 2474.5 L1392.5 2472.8 L1402.8 2470.9 L1413.0 2468.6 L1423.3 2466.0 L1433.6 2463.5 L1443.8 2461.2 L1454.1 2459.7 L1464.3 2458.3 L1474.6 2456.2 L1484.8 2453.7 L1495.1 2451.1 L1505.4 2448.7 L1515.6 2446.8 L1525.9 2445.5 L1536.1 2444.2 L1546.4 2442.2 L1556.6 2439.9 L1566.9 2437.6 L1577.1 2435.9 L1587.4 2434.2 L1597.7 2432.5 L1607.9 2430.8 L1618.2 2429.1 L1628.4 2427.4 L1638.7 2425.6 L1648.9 2423.9 L1659.2 2422.3 L1669.5 2420.7 L1679.7 2419.3 L1690.0 2418.0 L1700.2 2416.4 L1710.5 2414.6 L1720.7 2412.6 L1731.0 2410.8 L1741.2 2409.5 L1751.5 2408.3 L1761.8 2406.4 L1772.0 2404.2 L1782.3 2401.9 L1792.5 2399.7 L1802.8 2397.7 L1813.0 2396.2 L1823.3 2394.8 L1833.6 2393.2 L1843.8 2391.2 L1854.1 2389.2 L1864.3 2387.1 L1874.6 2385.2 L1884.8 2383.7 L1895.1 2382.2 L1905.4 2380.2 L1915.6 2377.8 L1925.9 2375.4 L1936.1 2373.0 L1946.4 2370.8 L1956.6 2369.2 L1966.9 2367.8 L1977.1 2365.8 L1987.4 2363.3 L1997.7 2360.8 L2007.9 2358.4 L2018.2 2356.2 L2028.4 2354.6 L2038.7 2353.0 L2048.9 2350.9 L2059.2 2348.6 L2069.5 2346.2 L2079.7 2343.9 L2090.0 2341.8 L2100.2 2340.4 L2110.5 2338.9 L2120.7 2336.8 L2131.0 2334.3 L2141.2 2331.8 L2151.5 2329.3 L2161.8 2327.1 L2172.0 2325.8 L2182.3 2324.6 L2192.5 2322.7 L2202.8 2320.2 L2213.0 2317.4 L2223.3 2314.6 L2233.6 2312.3 L2243.8 2310.7 L2254.1 2309.1 L2264.3 2307.1 L2274.6 2305.0 L2284.8 2302.8 L2295.1 2300.6 L2305.4 2298.6 L2315.6 2296.8 L2325.9 2295.0 L2336.1 2292.5 L2346.4 2289.7 L2356.6 2286.8 L2366.9 2283.9 L2377.1 2281.4 L2387.4 2279.6 L2397.7 2277.8 L2407.9 2275.5 L2418.2 2272.8 L2428.4 2269.9 L2438.7 2267.1 L2448.9 2264.4 L2459.2 2262.1 L2469.5 2259.9 L2479.7 2257.2 L2490.0 2254.3 L2500.2 2251.2 L2510.5 2248.3 L2520.7 2245.7 L2531.0 2243.7 L2541.2 2241.8 L2551.5 2239.3 L2561.8 2236.6 L2572.0 2233.8 L2582.3 2231.0 L2592.5 2228.3 L2602.8 2226.1 L2613.0 2223.9 L2623.3 2220.9 L2633.6 2217.6 L2643.8 2214.1 L2654.1 2210.6 L2664.3 2207.4 L2674.6 2204.9 L2684.8 2202.4 L2695.1 2199.6 L2705.4 2196.6 L2715.6 2193.7 L2725.9 2190.8 L2736.1 2188.0 L2746.4 2185.8 L2756.6 2183.7 L2766.9 2181.7 L2777.1 2179.8 L2787.4 2177.9 L2797.7 2176.1 L2807.9 2174.2 L2818.2 2172.3 L2828.4 2170.4 L2838.7 2167.9 L2848.9 2165.3 L2859.2 2162.6 L2869.5 2160.0 L2879.7 2157.7 L2890.0 2156.1 L2900.2 2154.4 L2910.5 2152.3 L2920.7 2149.9 L2931.0 2147.3 L2941.2 2144.7 L2951.5 2142.2 L2961.8 2140.4 L2972.0 2138.5 L2982.3 2136.0 L2992.5 2133.1 L3002.8 2130.1 L3013.0 2127.1 L3023.3 2124.3 L3033.6 2122.3 L3043.8 2120.4 L3054.1 2117.6 L3064.3 2114.4 L3074.6 2111.0 L3084.8 2107.7 L3095.1 2104.7 L3105.4 2102.4 L3115.6 2100.1 L3125.9 2097.2 L3136.1 2093.9 L3146.4 2090.4 L3156.6 2086.9 L3166.9 2083.7 L3177.1 2081.3 L3187.4 2079.0 L3197.7 2076.6 L3207.9 2073.8 L3218.2 2071.1 L3228.4 2068.3 L3238.7 2065.7 L3248.9 2063.4 L3258.9 2061.3 L3577.2 2061.3 L3587.4 2058.9 L3597.7 2056.8 L3607.9 2055.1 L3618.2 2053.7 L3628.4 2051.4 L3638.7 2048.7 L3648.9 2045.8 L3659.2 2042.9 L3669.5 2040.4 L3679.7 2038.7 L3690.0 2037.1 L3700.2 2034.9 L3710.5 2032.1 L3720.7 2029.2 L3731.0 2026.4 L3741.2 2023.7 L3751.5 2021.6 L3761.8 2019.6 L3772.0 2016.7 L3782.3 2013.5 L3792.5 2010.1 L3802.8 2006.8 L3813.0 2003.8 L3823.3 2001.7 L3833.6 1999.7 L3843.8 1997.1 L3854.1 1993.9 L3864.3 1990.6 L3874.6 1987.4 L3884.8 1984.3 L3895.1 1982.0 L3905.4 1979.8 L3915.6 1977.1 L3925.9 1974.1 L3936.1 1970.9 L3946.4 1967.9 L3956.6 1965.2 L3966.9 1963.7 L3977.1 1962.2 L3987.4 1959.7 L3997.7 1956.3 L4007.9 1952.6 L4018.2 1949.0 L4028.4 1945.9 L4038.7 1943.7 L4048.9 1941.6 L4059.2 1938.9 L4069.5 1935.8 L4079.7 1932.7 L4090.0 1929.8 L4100.2 1927.7 L4110.5 1925.8 L4120.7 1924.1 L4131.0 1922.8 L4141.2 1921.6 L4151.5 1920.3 L4161.8 1918.7 L4172.0 1916.8 L4182.3 1915.0 L4192.5 1913.2 L4202.8 1911.6"/>
<path stroke="#c8006e" d="M459.2 2703.9 L820.0 2698.4 L1020.0 2694.9 L1310.0 2690.7 L1640.0 2687.0 L2240.0 2679.5 L2587.0 2675.6 L2940.0 2671.5 L3287.0 2668.6 L3740.0 2661.7 L4202.8 2654.8"/>
<path stroke="#c0c0c0" d="M459.2 2703.9 L469.5 2702.1 L479.7 2699.6 L490.0 2696.2 L500.2 2693.0 L510.5 2690.0 L520.7 2687.0 L531.0 2683.7 L541.3 2680.3 L551.5 2677.0 L561.8 2673.8 L572.0 2670.7 L582.3 2667.4 L592.5 2664.2 L602.8 2661.2 L613.0 2658.4 L623.3 2655.4 L633.6 2652.2 L643.8 2648.9 L654.1 2645.7 L664.3 2642.5 L674.6 2639.3 L684.8 2635.9 L695.1 2632.4 L705.4 2629.0 L715.6 2625.8 L725.9 2622.6 L736.1 2619.9 L746.4 2618.3 L756.6 2615.9 L766.9 2613.1 L777.1 2610.1 L787.4 2606.6 L797.7 2603.1 L807.9 2600.3 L818.2 2597.5 L828.4 2594.3 L838.7 2590.8 L848.9 2587.0 L859.2 2583.2 L869.5 2579.4 L879.7 2576.1 L890.0 2573.2 L900.2 2570.0 L910.5 2566.7 L920.7 2563.2 L931.0 2559.8 L941.3 2556.4 L951.5 2553.2 L961.8 2550.0 L972.0 2546.5 L982.3 2542.8 L992.5 2539.1 L1002.8 2535.4 L1013.0 2531.8 L1023.3 2528.4 L1033.6 2525.0 L1043.8 2521.4 L1054.1 2517.6 L1064.3 2513.8 L1074.6 2510.1 L1084.8 2506.5 L1095.1 2503.3 L1105.4 2500.4 L1115.6 2497.3 L1125.9 2494.1 L1136.1 2490.8 L1146.4 2487.6 L1156.6 2484.4 L1166.9 2481.6 L1177.1 2478.8 L1187.4 2476.0 L1197.7 2473.0 L1207.9 2469.8 L1218.2 2466.6 L1228.4 2463.8 L1238.7 2461.1 L1248.9 2458.3 L1259.2 2455.0 L1269.5 2451.6 L1279.7 2448.1 L1290.0 2444.7 L1300.2 2441.3 L1310.5 2438.4 L1320.7 2435.5 L1331.0 2432.2 L1341.3 2428.8 L1351.5 2425.4 L1361.8 2422.0 L1372.0 2419.0 L1382.3 2416.6 L1392.5 2414.4 L1402.8 2412.1 L1413.0 2409.4 L1423.3 2406.6 L1433.6 2403.8 L1443.8 2401.0 L1454.1 2398.3 L1464.3 2395.7 L1474.6 2392.8 L1484.8 2389.9 L1495.1 2386.9 L1505.4 2384.3 L1515.6 2382.0 L1525.9 2379.9 L1536.1 2377.6 L1546.4 2374.7 L1556.6 2371.5 L1566.9 2368.2 L1577.1 2364.9 L1587.4 2362.1 L1597.7 2359.7 L1607.9 2357.4 L1618.2 2354.7 L1628.4 2351.9 L1638.7 2349.1 L1648.9 2346.2 L1659.2 2343.4 L1669.5 2340.9 L1679.7 2338.5 L1690.0 2336.2 L1700.2 2333.8 L1710.5 2331.2 L1720.7 2328.7 L1731.0 2326.2 L1741.2 2324.1 L1751.5 2322.2 L1761.8 2319.5 L1772.0 2316.3 L1782.3 2313.0 L1792.5 2309.7 L1802.8 2306.6 L1813.0 2304.1 L1823.3 2302.1 L1833.6 2299.4 L1843.8 2296.3 L1854.1 2293.1 L1864.3 2290.0 L1874.6 2287.2 L1884.8 2284.9 L1895.1 2282.5 L1905.4 2279.8 L1915.6 2276.8 L1925.9 2273.8 L1936.1 2270.8 L1946.4 2267.8 L1956.6 2264.9 L1966.9 2262.0 L1977.1 2259.1 L1987.4 2256.3 L1997.7 2253.5 L2007.9 2250.9 L2018.2 2248.4 L2028.4 2245.9 L2038.7 2243.2 L2048.9 2240.2 L2059.2 2237.0 L2069.5 2233.7 L2079.7 2230.4 L2090.0 2227.2 L2100.2 2224.5 L2110.5 2221.9 L2120.7 2219.0 L2131.0 2215.9 L2141.2 2212.7 L2151.5 2209.5 L2161.8 2206.3 L2172.0 2203.4 L2182.3 2200.5 L2192.5 2197.4 L2202.8 2194.3 L2213.0 2191.2 L2223.3 2188.4 L2233.6 2186.0 L2243.8 2183.8 L2254.1 2181.5 L2264.3 2178.7 L2274.6 2175.6 L2284.8 2172.5 L2295.1 2169.3 L2305.4 2166.3 L2315.6 2163.8 L2325.9 2161.3 L2336.1 2158.3 L2346.4 2155.1 L2356.6 2151.8 L2366.9 2148.5 L2377.1 2145.4 L2387.4 2142.7 L2397.7 2140.1 L2407.9 2137.0 L2418.2 2133.7 L2428.4 2130.2 L2438.7 2126.8 L2448.9 2123.6 L2459.2 2120.9 L2469.5 2118.3 L2479.7 2115.3 L2490.0 2112.0 L2500.2 2108.8 L2510.5 2105.5 L2520.7 2102.4 L2531.0 2099.6 L2541.2 2096.7 L2551.5 2093.4 L2561.8 2090.0 L2572.0 2086.5 L2582.3 2083.1 L2592.5 2079.9 L2602.8 2077.1 L2613.0 2074.3 L2623.3 2071.3 L2633.3 2068.3 L2951.5 2068.3 L2961.8 2065.9 L2972.0 2063.3 L2982.3 2060.3 L2992.5 2056.9 L3002.8 2053.5 L3013.0 2050.1 L3023.3 2046.8 L3033.6 2044.2 L3043.8 2041.5 L3054.1 2038.5 L3064.3 2035.2 L3074.6 2031.8 L3084.8 2028.5 L3095.1 2025.3 L3105.4 2022.6 L3115.6 2020.0 L3125.9 2017.1 L3136.1 2014.0 L3146.4 2010.9 L3156.6 2007.7 L3166.9 2004.7 L3177.1 2002.1 L3187.4 1999.6 L3197.7 1996.8 L3207.9 1993.8 L3218.2 1990.8 L3228.4 1987.8 L3238.7 1984.8 L3248.9 1981.9 L3259.2 1979.5 L3269.5 1976.5 L3279.7 1973.5 L3290.0 1970.4 L3300.2 1967.3 L3310.5 1964.4 L3320.7 1961.8 L3331.0 1959.4 L3341.2 1956.4 L3351.5 1953.1 L3361.8 1949.8 L3372.0 1946.5 L3382.3 1943.5 L3392.5 1941.1 L3402.8 1938.8 L3413.0 1935.8 L3423.3 1932.5 L3433.6 1929.2 L3443.8 1925.8 L3454.1 1922.6 L3464.3 1919.6 L3474.6 1916.9 L3484.8 1914.2 L3495.1 1911.5 L3505.4 1908.7 L3515.6 1905.6 L3525.9 1902.6 L3536.1 1899.8 L3546.4 1896.9 L3556.6 1894.1 L3566.9 1891.3 L3577.1 1888.5 L3587.4 1885.7 L3597.7 1883.0 L3607.9 1880.2 L3618.2 1877.5 L3628.4 1874.8 L3638.7 1872.1 L3648.9 1869.3 L3659.2 1865.7 L3669.5 1862.2 L3679.7 1859.6 L3690.0 1857.3 L3700.2 1854.4 L3710.5 1851.1 L3720.7 1847.6 L3731.0 1844.2 L3741.2 1841.0 L3751.5 1838.3 L3761.8 1835.7 L3772.0 1832.6 L3782.3 1829.4 L3792.5 1825.7 L3802.8 1821.6 L3813.0 1817.7 L3823.3 1814.4 L3833.6 1811.2 L3843.8 1807.6 L3854.1 1803.7 L3864.3 1800.0 L3874.6 1796.9 L3884.8 1793.8 L3895.1 1790.8 L3905.4 1787.7 L3915.6 1784.3 L3925.9 1780.7 L3936.1 1777.0 L3946.4 1773.5 L3956.6 1770.2 L3966.9 1768.0 L3977.1 1765.9 L3987.4 1762.9 L3997.7 1759.1 L4007.9 1755.1 L4018.2 1751.1 L4028.4 1747.2 L4038.7 1744.0 L4048.9 1741.0 L4059.2 1737.5 L4069.5 1733.8 L4079.7 1729.9 L4090.0 1726.2 L4100.2 1723.0 L4110.5 1720.3 L4120.7 1717.8 L4131.0 1715.4 L4141.2 1713.2 L4151.5 1710.9 L4161.8 1708.1 L4172.0 1705.1 L4182.3 1702.2 L4192.5 1699.4 L4202.8 1696.7"/>
<path stroke="#ff5733" d="M459.2 2703.9 L820.0 2686.1 L942.0 2680.0 L1020.0 2677.2 L1065.0 2674.8 L1144.5 2672.3 L1248.6 2670.8 L1358.8 2668.7 L1432.0 2667.8 L1540.0 2665.6 L1620.0 2664.9 L1751.8 2661.7 L1883.6 2655.7 L2015.4 2650.6 L2147.2 2644.6 L2240.0 2641.2 L2403.7 2631.2 L2587.3 2620.8 L2771.0 2611.6 L2940.0 2603.7 L3103.7 2595.1 L3287.3 2585.9 L3409.8 2581.3 L3492.4 2578.3 L3550.6 2575.2 L3640.0 2571.2 L3763.9 2566.4 L3886.3 2560.9 L3981.2 2556.9 L4091.4 2552.3 L4177.1 2549.0 L4202.8 2548.4"/>
<path stroke="#ffc04d" d="M459.2 2703.9 L820.0 2693.2 L1020.0 2689.1 L1187.0 2684.0 L1310.0 2680.9 L1432.0 2678.8 L1640.0 2675.1 L2240.0 2668.3 L2587.0 2665.2 L2940.0 2662.1 L3287.0 2658.5 L3492.0 2655.4 L3740.0 2650.9 L4202.8 2637.8"/>
</g>
<g stroke="#000" fill="none">
<g stroke-width="2.2">
<line x1="262.0" y1="2704.0" x2="272.0" y2="2704.0"/>
<line x1="262.0" y1="2264.0" x2="272.0" y2="2264.0"/>
<line x1="262.0" y1="1823.0" x2="272.0" y2="1823.0"/>
<line x1="262.0" y1="1383.0" x2="272.0" y2="1383.0"/>
<line x1="262.0" y1="943.0" x2="272.0" y2="943.0"/>
<line x1="262.0" y1="503.0" x2="272.0" y2="503.0"/>
<line x1="459.0" y1="2816.0" x2="459.0" y2="2825.9"/>
<line x1="777.0" y1="2816.0" x2="777.0" y2="2825.9"/>
<line x1="1064.0" y1="2816.0" x2="1064.0" y2="2825.9"/>
<line x1="1382.0" y1="2816.0" x2="1382.0" y2="2825.9"/>
<line x1="1690.0" y1="2816.0" x2="1690.0" y2="2825.9"/>
<line x1="2008.0" y1="2816.0" x2="2008.0" y2="2825.9"/>
<line x1="2316.0" y1="2816.0" x2="2316.0" y2="2825.9"/>
<line x1="2634.0" y1="2816.0" x2="2634.0" y2="2825.9"/>
<line x1="2952.0" y1="2816.0" x2="2952.0" y2="2825.9"/>
<line x1="3259.0" y1="2816.0" x2="3259.0" y2="2825.9"/>
<line x1="3577.0" y1="2816.0" x2="3577.0" y2="2825.9"/>
<line x1="3885.0" y1="2816.0" x2="3885.0" y2="2825.9"/>
<line x1="4203.0" y1="2816.0" x2="4203.0" y2="2825.9"/>
</g><g stroke-width="2">
<line x1="316.0" y1="2816.0" x2="316.0" y2="2821.9"/>
<line x1="387.0" y1="2816.0" x2="387.0" y2="2821.9"/>
<line x1="459.0" y1="2816.0" x2="459.0" y2="2821.9"/>
<line x1="531.0" y1="2816.0" x2="531.0" y2="2821.9"/>
<line x1="603.0" y1="2816.0" x2="603.0" y2="2821.9"/>
<line x1="675.0" y1="2816.0" x2="675.0" y2="2821.9"/>
<line x1="746.0" y1="2816.0" x2="746.0" y2="2821.9"/>
<line x1="818.0" y1="2816.0" x2="818.0" y2="2821.9"/>
<line x1="890.0" y1="2816.0" x2="890.0" y2="2821.9"/>
<line x1="962.0" y1="2816.0" x2="962.0" y2="2821.9"/>
<line x1="1034.0" y1="2816.0" x2="1034.0" y2="2821.9"/>
<line x1="1105.0" y1="2816.0" x2="1105.0" y2="2821.9"/>
<line x1="1177.0" y1="2816.0" x2="1177.0" y2="2821.9"/>
<line x1="1249.0" y1="2816.0" x2="1249.0" y2="2821.9"/>
<line x1="1321.0" y1="2816.0" x2="1321.0" y2="2821.9"/>
<line x1="1393.0" y1="2816.0" x2="1393.0" y2="2821.9"/>
<line x1="1464.0" y1="2816.0" x2="1464.0" y2="2821.9"/>
<line x1="1536.0" y1="2816.0" x2="1536.0" y2="2821.9"/>
<line x1="1608.0" y1="2816.0" x2="1608.0" y2="2821.9"/>
<line x1="1680.0" y1="2816.0" x2="1680.0" y2="2821.9"/>
<line x1="1752.0" y1="2816.0" x2="1752.0" y2="2821.9"/>
<line x1="1823.0" y1="2816.0" x2="1823.0" y2="2821.9"/>
<line x1="1895.0" y1="2816.0" x2="1895.0" y2="2821.9"/>
<line x1="1967.0" y1="2816.0" x2="1967.0" y2="2821.9"/>
<line x1="2039.0" y1="2816.0" x2="2039.0" y2="2821.9"/>
<line x1="2110.0" y1="2816.0" x2="2110.0" y2="2821.9"/>
<line x1="2182.0" y1="2816.0" x2="2182.0" y2="2821.9"/>
<line x1="2254.0" y1="2816.0" x2="2254.0" y2="2821.9"/>
<line x1="2326.0" y1="2816.0" x2="2326.0" y2="2821.9"/>
<line x1="2398.0" y1="2816.0" x2="2398.0" y2="2821.9"/>
<line x1="2469.0" y1="2816.0" x2="2469.0" y2="2821.9"/>
<line x1="2541.0" y1="2816.0" x2="2541.0" y2="2821.9"/>
<line x1="2613.0" y1="2816.0" x2="2613.0" y2="2821.9"/>
<line x1="2685.0" y1="2816.0" x2="2685.0" y2="2821.9"/>
<line x1="2757.0" y1="2816.0" x2="2757.0" y2="2821.9"/>
<line x1="2828.0" y1="2816.0" x2="2828.0" y2="2821.9"/>
<line x1="2900.0" y1="2816.0" x2="2900.0" y2="2821.9"/>
<line x1="2972.0" y1="2816.0" x2="2972.0" y2="2821.9"/>
<line x1="3044.0" y1="2816.0" x2="3044.0" y2="2821.9"/>
<line x1="3116.0" y1="2816.0" x2="3116.0" y2="2821.9"/>
<line x1="3187.0" y1="2816.0" x2="3187.0" y2="2821.9"/>
<line x1="3259.0" y1="2816.0" x2="3259.0" y2="2821.9"/>
<line x1="3331.0" y1="2816.0" x2="3331.0" y2="2821.9"/>
<line x1="3403.0" y1="2816.0" x2="3403.0" y2="2821.9"/>
<line x1="3475.0" y1="2816.0" x2="3475.0" y2="2821.9"/>
<line x1="3546.0" y1="2816.0" x2="3546.0" y2="2821.9"/>
<line x1="3618.0" y1="2816.0" x2="3618.0" y2="2821.9"/>
<line x1="3690.0" y1="2816.0" x2="3690.0" y2="2821.9"/>
<line x1="3762.0" y1="2816.0" x2="3762.0" y2="2821.9"/>
<line x1="3834.0" y1="2816.0" x2="3834.0" y2="2821.9"/>
<line x1="3905.0" y1="2816.0" x2="3905.0" y2="2821.9"/>
<line x1="3977.0" y1="2816.0" x2="3977.0" y2="2821.9"/>
<line x1="4049.0" y1="2816.0" x2="4049.0" y2="2821.9"/>
<line x1="4121.0" y1="2816.0" x2="4121.0" y2="2821.9"/>
<line x1="4193.0" y1="2816.0" x2="4193.0" y2="2821.9"/>
<line x1="4264.0" y1="2816.0" x2="4264.0" y2="2821.9"/>
<line x1="4336.0" y1="2816.0" x2="4336.0" y2="2821.9"/>
</g>
<rect x="272.0" y="344.0" width="4118.0" height="2472.0" stroke-width="2.2"/>
</g>
<g font-size="61.11px" text-anchor="end">
<text x="252.6" y="2727.1">0</text>
<text x="252.6" y="2287.1">50</text>
<text x="252.6" y="1846.1">100</text>
<text x="252.6" y="1406.1">150</text>
<text x="252.6" y="966.1">200</text>
<text x="252.6" y="526.1">250</text>
</g>
<g font-size="61.54px" text-anchor="end">
<text transform="translate(454.7 2876.3) rotate(-30)">01-01-2018</text>
<text transform="translate(772.6 2876.3) rotate(-30)">01-02-2018</text>
<text transform="translate(1059.8 2876.3) rotate(-30)">01-03-2018</text>
<text transform="translate(1377.8 2876.3) rotate(-30)">01-04-2018</text>
<text transform="translate(1685.5 2876.3) rotate(-30)">01-05-2018</text>
<text transform="translate(2003.4 2876.3) rotate(-30)">01-06-2018</text>
<text transform="translate(2311.1 2876.3) rotate(-30)">01-07-2018</text>
<text transform="translate(2629.1 2876.3) rotate(-30)">01-08-2018</text>
<text transform="translate(2947.0 2876.3) rotate(-30)">01-09-2018</text>
<text transform="translate(3254.7 2876.3) rotate(-30)">01-10-2018</text>
<text transform="translate(3572.6 2876.3) rotate(-30)">01-11-2018</text>
<text transform="translate(3880.3 2876.3) rotate(-30)">01-12-2018</text>
<text transform="translate(4198.3 2876.3) rotate(-30)">01-01-2019</text>
</g>
<text x="2331" y="3121" font-size="61.11px" text-anchor="middle">date</text>
<text transform="translate(111 1580) rotate(-90)" font-size="61.11px" text-anchor="middle">Generation CO2 emission [MtCO2eq]</text>
<g font-size="73.33px" text-anchor="middle"><text x="2400" y="120">Cumulative generation CO2 emission per country</text><text x="2400" y="201.5">01-01-2018 to 01-01-2019</text></g>
<g font-size="61.11px" text-anchor="end"><text x="4780.5" y="66.2">Thomas Auriel - CC BY-SA</text><text x="4780.5" y="134.2">Source: ENTSO-E, IPCC 2014</text><text x="4390" y="330.8">time interval: 1hr</text></g>
<rect x="4420.5" y="375.4" width="314.1" height="1003.1" rx="12" ry="12" fill="#fff" fill-opacity="0.8" stroke="#d6d6d6" stroke-width="2.78"/>
<g stroke-width="2.78" fill="none">
<line x1="4444.3" y1="424.5" x2="4568.7" y2="424.5" stroke="#c88d54"/>
<line x1="4444.3" y1="513.5" x2="4568.7" y2="513.5" stroke="#ff3300"/>
<line x1="4444.3" y1="603.5" x2="4568.7" y2="603.5" stroke="#795548"/>
<line x1="4444.3" y1="692.5" x2="4568.7" y2="692.5" stroke="#00c8a0"/>
<line x1="4444.3" y1="782.5" x2="4568.7" y2="782.5" stroke="#f5cc47"/>
<line x1="4444.3" y1="872.5" x2="4568.7" y2="872.5" stroke="#0a64ff"/>
<line x1="4444.3" y1="961.5" x2="4568.7" y2="961.5" stroke="#00c800"/>
<line x1="4444.3" y1="1051.5" x2="4568.7" y2="1051.5" stroke="#c8006e"/>
<line x1="4444.3" y1="1140.5" x2="4568.7" y2="1140.5" stroke="#c0c0c0"/>
<line x1="4444.3" y1="1230.5" x2="4568.7" y2="1230.5" stroke="#ff5733"/>
<line x1="4444.3" y1="1319.5" x2="4568.7" y2="1319.5" stroke="#ffc04d"/>
</g>
<g font-size="61.11px">
<text x="4615.7" y="445.2">BE</text>
<text x="4615.7" y="534.7">CH</text>
<text x="4615.7" y="624.2">DE</text>
<text x="4615.7" y="713.7">DK</text>
<text x="4615.7" y="803.2">ES</text>
<text x="4615.7" y="892.7">FR</text>
<text x="4615.7" y="982.2">IT</text>
<text x="4615.7" y="1071.7">NO</text>
<text x="4615.7" y="1161.2">PL</text>
<text x="4615.7" y="1250.7">PT</text>
<text x="4615.7" y="1340.2">SE</text>
</g>
</svg></body></html>
